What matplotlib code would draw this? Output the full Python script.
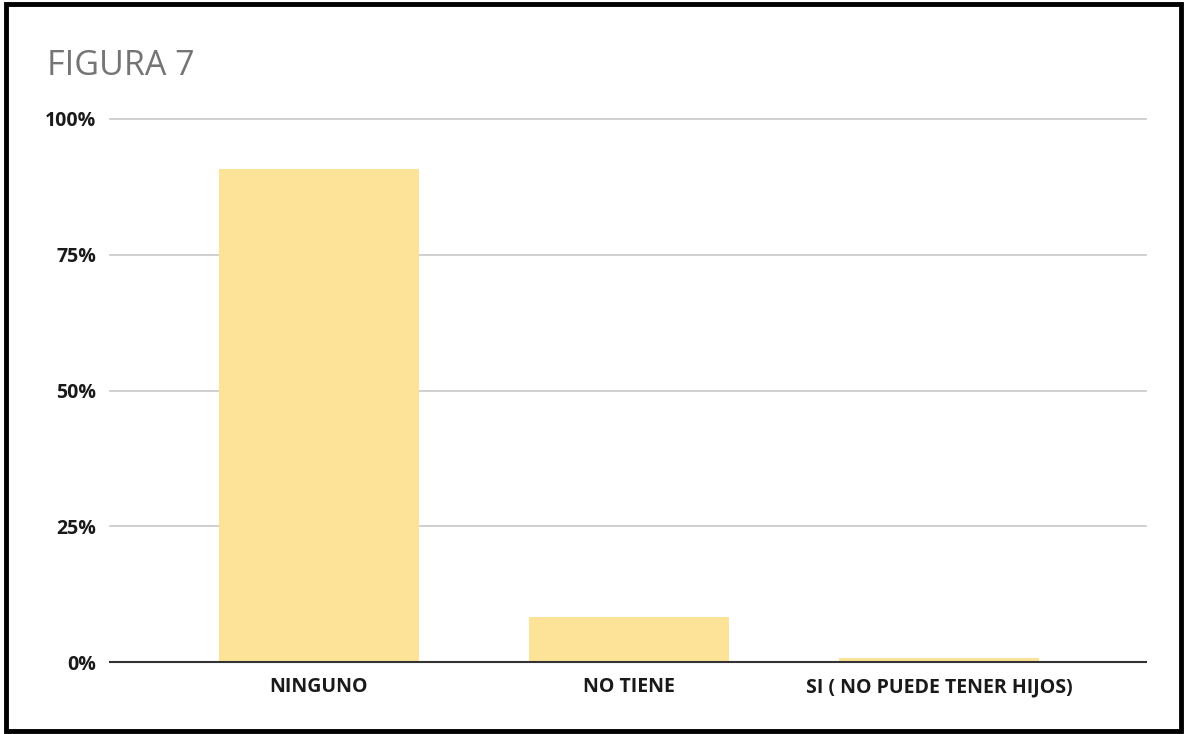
import matplotlib.pyplot as plt
from matplotlib.patches import Rectangle
from matplotlib.ticker import PercentFormatter

categories = ["NINGUNO", "NO TIENE", "SI ( NO PUEDE TENER HIJOS)"]
values = [0.908, 0.083, 0.007]
yticks = [0, 0.25, 0.5, 0.75, 1.0]

plt.rcParams['font.family'] = ['Open Sans', 'DejaVu Sans']

fig = plt.figure(figsize=(11.87, 7.34), dpi=100)
ax = fig.add_axes([110/1187, 1 - 662/734, 1036/1187, 543/734])

x = range(len(categories))
ax.bar(x, values, width=0.645, color="#fde397", zorder=3)

ax.set_xlim(-0.674, 2.668)
ax.set_ylim(0, 1)
ax.set_yticks(yticks)
ax.yaxis.set_major_formatter(PercentFormatter(1.0, decimals=0))
ax.set_xticks(list(x))
ax.set_xticklabels(categories)
ax.grid(axis='y', color="#c8c8c8", linewidth=1.2, zorder=0)
for gl in ax.get_ygridlines():
    gl.set_clip_on(False)
for s in ["left", "right", "top"]:
    ax.spines[s].set_visible(False)
ax.spines["bottom"].set_color("#333333")
ax.spines["bottom"].set_linewidth(1.5)
ax.spines["bottom"].set_zorder(4)
ax.tick_params(length=0, labelsize=14)
ax.tick_params(axis='y', pad=10)
ax.tick_params(axis='x', pad=11)
for lbl in ax.get_xticklabels() + ax.get_yticklabels():
    lbl.set_fontweight('bold')
    lbl.set_color("#1a1a1a")

fig.text(47/1187, 1 - 66/734, "FIGURA 7", fontsize=24.5, color="#757575", va='center', ha='left')

fig.patches.append(Rectangle((0.005, 0.004), 0.99, 0.99, transform=fig.transFigure,
                             fill=False, edgecolor="black", linewidth=3.5))

fig.savefig("out.png", dpi=100)
